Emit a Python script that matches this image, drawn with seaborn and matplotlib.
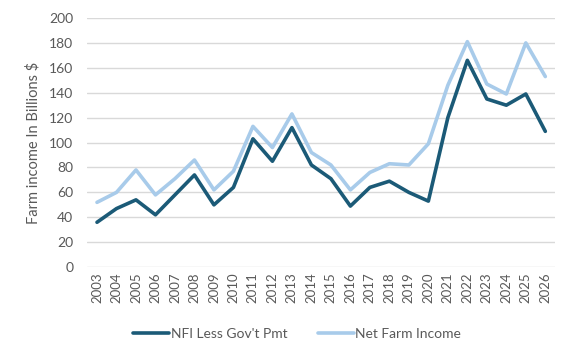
import matplotlib
matplotlib.use("Agg")
import matplotlib.pyplot as plt
import seaborn as sns
import pandas as pd

years = [str(y) for y in range(2003, 2027)]
nfi_less_govt = [36, 47, 54, 42, 58, 74, 50, 64, 103, 85, 112, 82, 71, 49, 64, 69,
                 60, 53, 120, 166, 135, 130, 139, 109]
net_farm_income = [52, 60, 78, 58, 71, 86, 62, 77, 113, 96, 123, 92, 82, 62, 76, 83,
                   82, 99, 146, 181, 147, 139, 180, 153]

sns.set_theme(style="white")
plt.rcParams["font.family"] = ["Lato", "DejaVu Sans"]

df = pd.DataFrame({
    "year": years * 2,
    "value": nfi_less_govt + net_farm_income,
    "series": ["NFI Less Gov't Pmt"] * len(years) + ["Net Farm Income"] * len(years),
})

fig = plt.figure(figsize=(5.74, 3.6), dpi=100)
ax = fig.add_axes([0.152, 0.258, 0.815, 0.692])
sns.lineplot(data=df, x="year", y="value", hue="series",
             palette=["#1b5a77", "#a8cbea"], linewidth=2.6, ax=ax, legend=False)

ax.set_xlim(-0.5, len(years) - 0.5)
ax.set_ylim(0, 200)
ax.set_yticks(range(0, 201, 20))
ax.yaxis.grid(True, color="#d9d9d9", linewidth=1)
ax.set_axisbelow(True)
for s in ax.spines.values():
    s.set_visible(False)
ax.tick_params(axis="x", rotation=90, labelsize=9.5, colors="#595959", length=0, pad=4)
ax.tick_params(axis="y", labelsize=10, colors="#595959", length=0, pad=10)
ax.set_xlabel("")
ax.set_ylabel("Farm income In Billions $", fontsize=10.5, color="#595959", labelpad=6)

handles = [plt.Line2D([], [], color="#1b5a77", lw=2.6),
           plt.Line2D([], [], color="#a8cbea", lw=2.6)]
fig.legend(handles, ["NFI Less Gov't Pmt", "Net Farm Income"], loc="center",
           bbox_to_anchor=(0.518, 0.072), ncol=2, frameon=False, fontsize=10,
           handlelength=2.6, handletextpad=0.1, columnspacing=2.2, labelcolor="#595959")

fig.savefig("out.png", dpi=100)
